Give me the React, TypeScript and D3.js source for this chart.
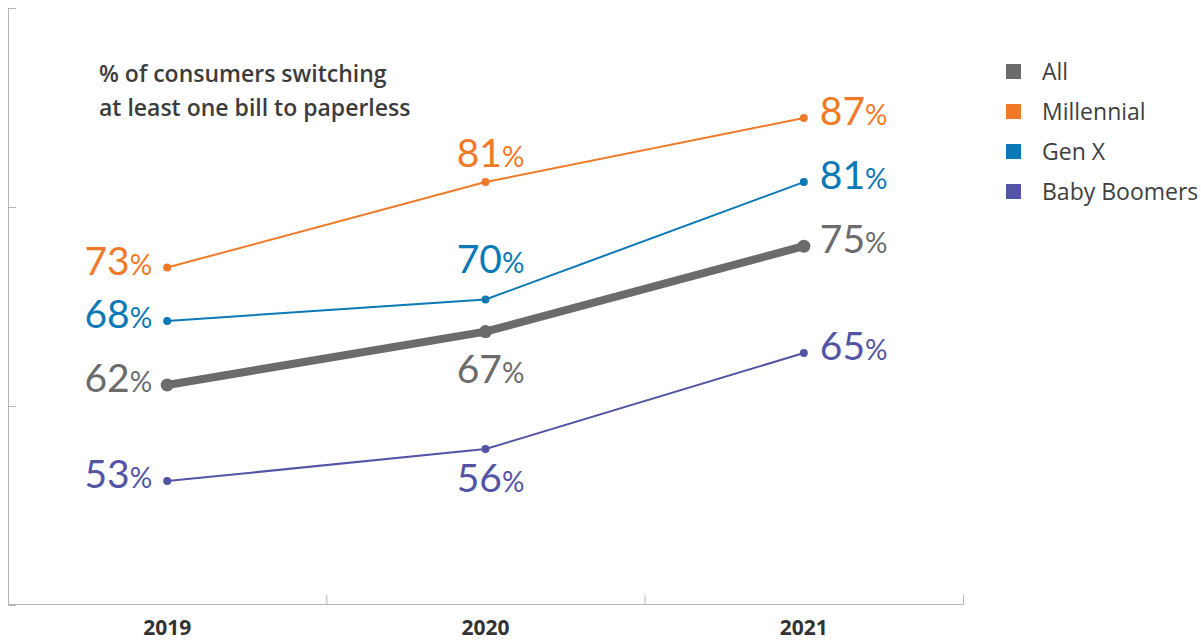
import React from "react";
import * as d3 from "d3";

const years = ["2019", "2020", "2021"];
const seriesNames = ["All", "Millennial", "Gen X", "Baby Boomers"];
const allValues = [62, 67, 75];
const millennialValues = [73, 81, 87];
const genXValues = [68, 70, 81];
const boomerValues = [53, 56, 65];
const colors = ["#6b6b6b", "#f07a28", "#0b79b5", "#5354a5"];
// vertical offset of the 2020 label baseline relative to its point
const middleLabelOffset = [51, -15, -27, 43];

const W = 1201;
const H = 642;

export default function App() {
  const x = d3.scaleBand<string>().domain(years).range([8, 963]);
  const y = d3.scaleLinear().domain([41.4, 97.3]).range([605, 8]);
  const cx = (d: string) => (x(d) as number) + x.bandwidth() / 2;
  const yTicks = d3.range(4).map((i) => 41.4 + (i * (97.3 - 41.4)) / 3);
  const values = [allValues, millennialValues, genXValues, boomerValues];
  const line = d3
    .line<number>()
    .x((_, i) => cx(years[i]))
    .y((v) => y(v));

  const numFont = "Lato, 'Open Sans', sans-serif";
  const order = [1, 2, 3, 0];

  return (
    <svg
      width={W}
      height={H}
      style={{ position: "absolute", left: 0, top: 0, background: "#fff" }}
    >
      {/* axes */}
      <line x1={8.5} x2={8.5} y1={8} y2={605} stroke="#b5b5b5" strokeWidth={1} />
      <line x1={8} x2={963.5} y1={604.5} y2={604.5} stroke="#b5b5b5" strokeWidth={1.2} />
      {yTicks.map((t, i) => (
        <line key={"yt" + i} x1={8} x2={16} y1={y(t) + 0.5} y2={y(t) + 0.5} stroke="#b5b5b5" />
      ))}
      {years.map((yr) => (
        <line
          key={"xt" + yr}
          x1={(x(yr) as number) + x.bandwidth() + 0.5}
          x2={(x(yr) as number) + x.bandwidth() + 0.5}
          y1={595}
          y2={605}
          stroke="#b5b5b5"
        />
      ))}
      {years.map((yr) => (
        <text
          key={"xl" + yr}
          x={cx(yr)}
          y={635}
          textAnchor="middle"
          fontFamily="'Open Sans', sans-serif"
          fontWeight={700}
          fontSize={21}
          fill="#333"
        >
          {yr}
        </text>
      ))}

      {/* title */}
      <text fontFamily="'Open Sans', sans-serif" fontWeight={600} fontSize={23} fill="#3c3c3c">
        <tspan x={99} y={82}>% of consumers switching</tspan>
        <tspan x={99} y={116}>at least one bill to paperless</tspan>
      </text>

      {/* lines */}
      {order.map((s) => (
        <g key={"s" + s}>
          <path
            d={line(values[s]) as string}
            fill="none"
            stroke={colors[s]}
            strokeWidth={s === 0 ? 8 : 2}
          />
          {values[s].map((v, i) => (
            <circle key={i} cx={cx(years[i])} cy={y(v)} r={s === 0 ? 6.5 : 4} fill={colors[s]} />
          ))}
        </g>
      ))}

      {/* value labels */}
      {values.map((vals, s) =>
        vals.map((v, i) => {
          let tx = cx(years[i]);
          let ty = y(v) + 7;
          let anchor = "middle";
          if (i === 0) {
            tx = cx(years[i]) - 15;
            anchor = "end";
          } else if (i === 2) {
            tx = cx(years[i]) + 16;
            anchor = "start";
          } else {
            tx = cx(years[i]) + 5;
            ty = y(v) + middleLabelOffset[s];
          }
          return (
            <text
              key={"l" + s + i}
              x={tx}
              y={ty}
              textAnchor={anchor}
              fontFamily={numFont}
              fontSize={39}
              fill={colors[s]}
            >
              {v}
              <tspan fontSize={28}>%</tspan>
            </text>
          );
        })
      )}

      {/* legend */}
      {seriesNames.map((n, i) => (
        <g key={"lg" + n} transform={`translate(1006, ${64 + i * 40})`}>
          <rect x={0} y={0} width={15} height={15} fill={colors[i]} />
          <text
            x={36}
            y={16}
            fontFamily="'Open Sans', sans-serif"
            fontSize={23}
            fill="#404040"
          >
            {n}
          </text>
        </g>
      ))}
    </svg>
  );
}
